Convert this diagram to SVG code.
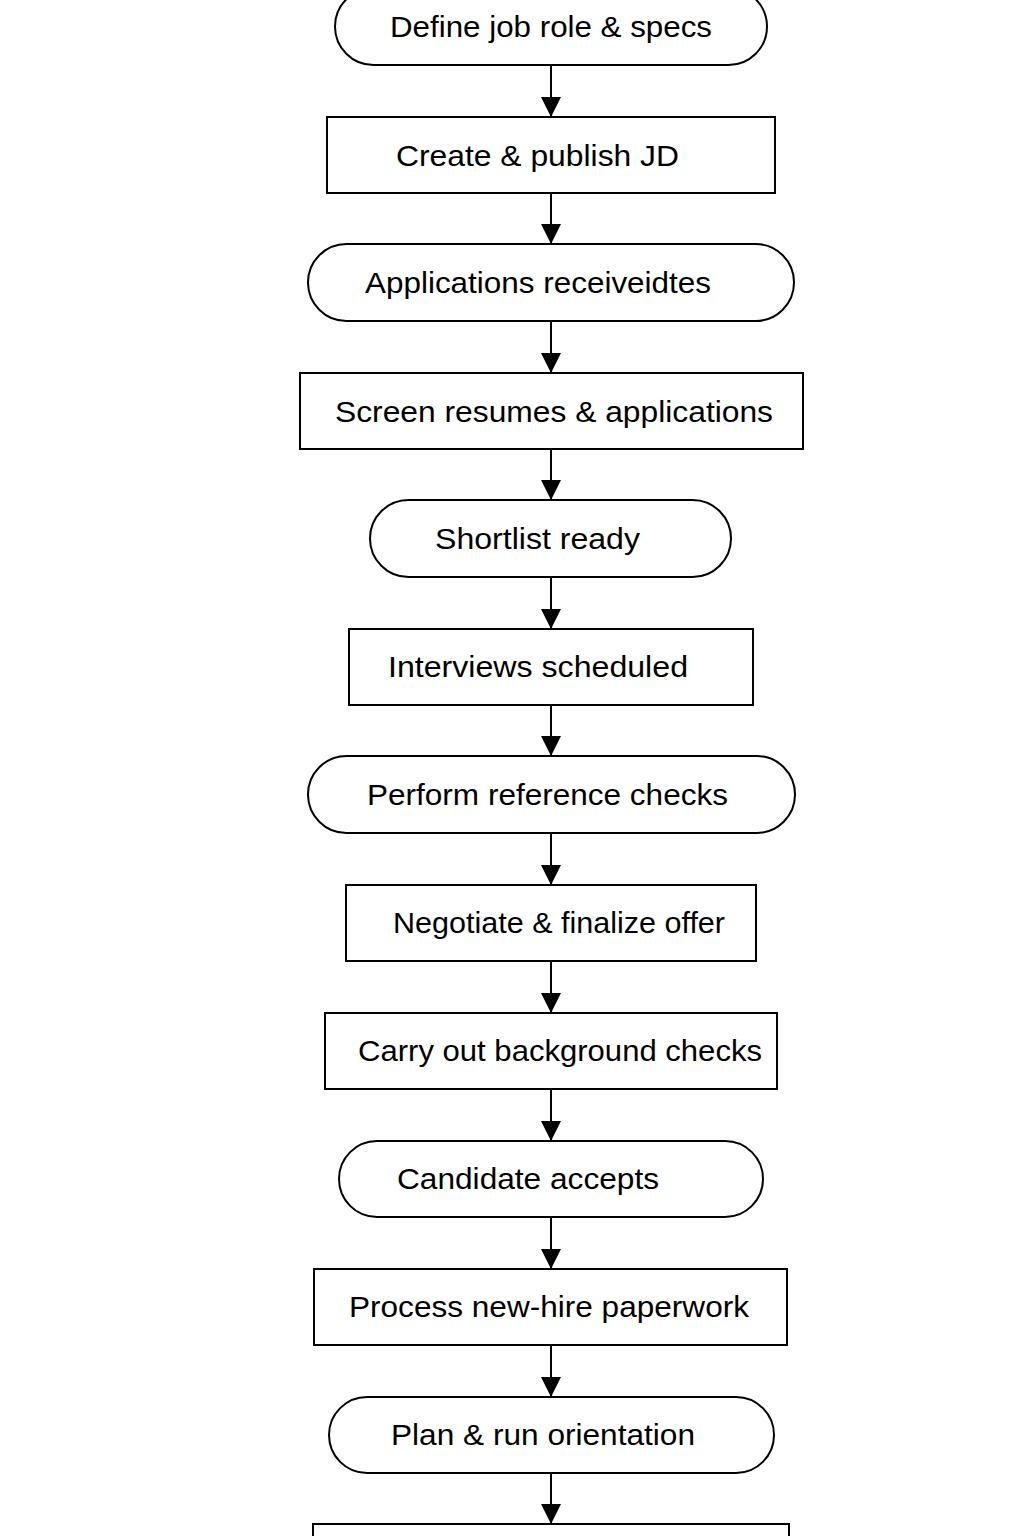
<svg xmlns="http://www.w3.org/2000/svg" width="1024" height="1536" viewBox="0 0 1024 1536">
<style>
.n{fill:#fff;stroke:#000;stroke-width:2}
.t{font-family:"Liberation Sans",Arial,sans-serif;font-size:30px;fill:#000}
.c{stroke:#000;stroke-width:2;fill:none}
</style>
<defs>
<marker id="a" markerWidth="20" markerHeight="20" refX="20" refY="10" orient="auto" markerUnits="userSpaceOnUse">
<path d="M0,0 L20,10 L0,20 Z" fill="#000"/>
</marker>
</defs>
<rect width="1024" height="1536" fill="#fff"/>
<g id="connectors">
<line class="c" x1="551" y1="65" x2="551" y2="117" marker-end="url(#a)"/>
<line class="c" x1="551" y1="193" x2="551" y2="244" marker-end="url(#a)"/>
<line class="c" x1="551" y1="321" x2="551" y2="373" marker-end="url(#a)"/>
<line class="c" x1="551" y1="449" x2="551" y2="500" marker-end="url(#a)"/>
<line class="c" x1="551" y1="577" x2="551" y2="629" marker-end="url(#a)"/>
<line class="c" x1="551" y1="705" x2="551" y2="756" marker-end="url(#a)"/>
<line class="c" x1="551" y1="833" x2="551" y2="885" marker-end="url(#a)"/>
<line class="c" x1="551" y1="961" x2="551" y2="1013" marker-end="url(#a)"/>
<line class="c" x1="551" y1="1089" x2="551" y2="1141" marker-end="url(#a)"/>
<line class="c" x1="551" y1="1217" x2="551" y2="1269" marker-end="url(#a)"/>
<line class="c" x1="551" y1="1345" x2="551" y2="1397" marker-end="url(#a)"/>
<line class="c" x1="551" y1="1473" x2="551" y2="1524" marker-end="url(#a)"/>
</g>
<g id="n1"><rect class="n" x="335" y="-12" width="432" height="77" rx="38.5"/><text class="t" x="390" y="37" textLength="322" lengthAdjust="spacingAndGlyphs">Define job role &amp; specs</text></g>
<g id="n2"><rect class="n" x="327" y="117" width="448" height="76"/><text class="t" x="396" y="166" textLength="283" lengthAdjust="spacingAndGlyphs">Create &amp; publish JD</text></g>
<g id="n3"><rect class="n" x="308" y="244" width="486" height="77" rx="38.5"/><text class="t" x="365" y="293" textLength="346" lengthAdjust="spacingAndGlyphs">Applications receiveidtes</text></g>
<g id="n4"><rect class="n" x="300" y="373" width="503" height="76"/><text class="t" x="335" y="422" textLength="438" lengthAdjust="spacingAndGlyphs">Screen resumes &amp; applications</text></g>
<g id="n5"><rect class="n" x="370" y="500" width="361" height="77" rx="38.5"/><text class="t" x="435" y="549" textLength="205" lengthAdjust="spacingAndGlyphs">Shortlist ready</text></g>
<g id="n6"><rect class="n" x="349" y="629" width="404" height="76"/><text class="t" x="388" y="677" textLength="300" lengthAdjust="spacingAndGlyphs">Interviews scheduled</text></g>
<g id="n7"><rect class="n" x="308" y="756" width="487" height="77" rx="38.5"/><text class="t" x="367" y="805" textLength="361" lengthAdjust="spacingAndGlyphs">Perform reference checks</text></g>
<g id="n8"><rect class="n" x="346" y="885" width="410" height="76"/><text class="t" x="393" y="933" textLength="332" lengthAdjust="spacingAndGlyphs">Negotiate &amp; finalize offer</text></g>
<g id="n9"><rect class="n" x="325" y="1013" width="452" height="76"/><text class="t" x="358" y="1061" textLength="404" lengthAdjust="spacingAndGlyphs">Carry out background checks</text></g>
<g id="n10"><rect class="n" x="339" y="1141" width="424" height="76" rx="38"/><text class="t" x="397" y="1189" textLength="262" lengthAdjust="spacingAndGlyphs">Candidate accepts</text></g>
<g id="n11"><rect class="n" x="314" y="1269" width="473" height="76"/><text class="t" x="349" y="1317" textLength="400" lengthAdjust="spacingAndGlyphs">Process new-hire paperwork</text></g>
<g id="n12"><rect class="n" x="329" y="1397" width="445" height="76" rx="38"/><text class="t" x="391" y="1445" textLength="304" lengthAdjust="spacingAndGlyphs">Plan &amp; run orientation</text></g>
<g id="n13"><rect class="n" x="313" y="1524" width="476" height="76"/></g>
</svg>
